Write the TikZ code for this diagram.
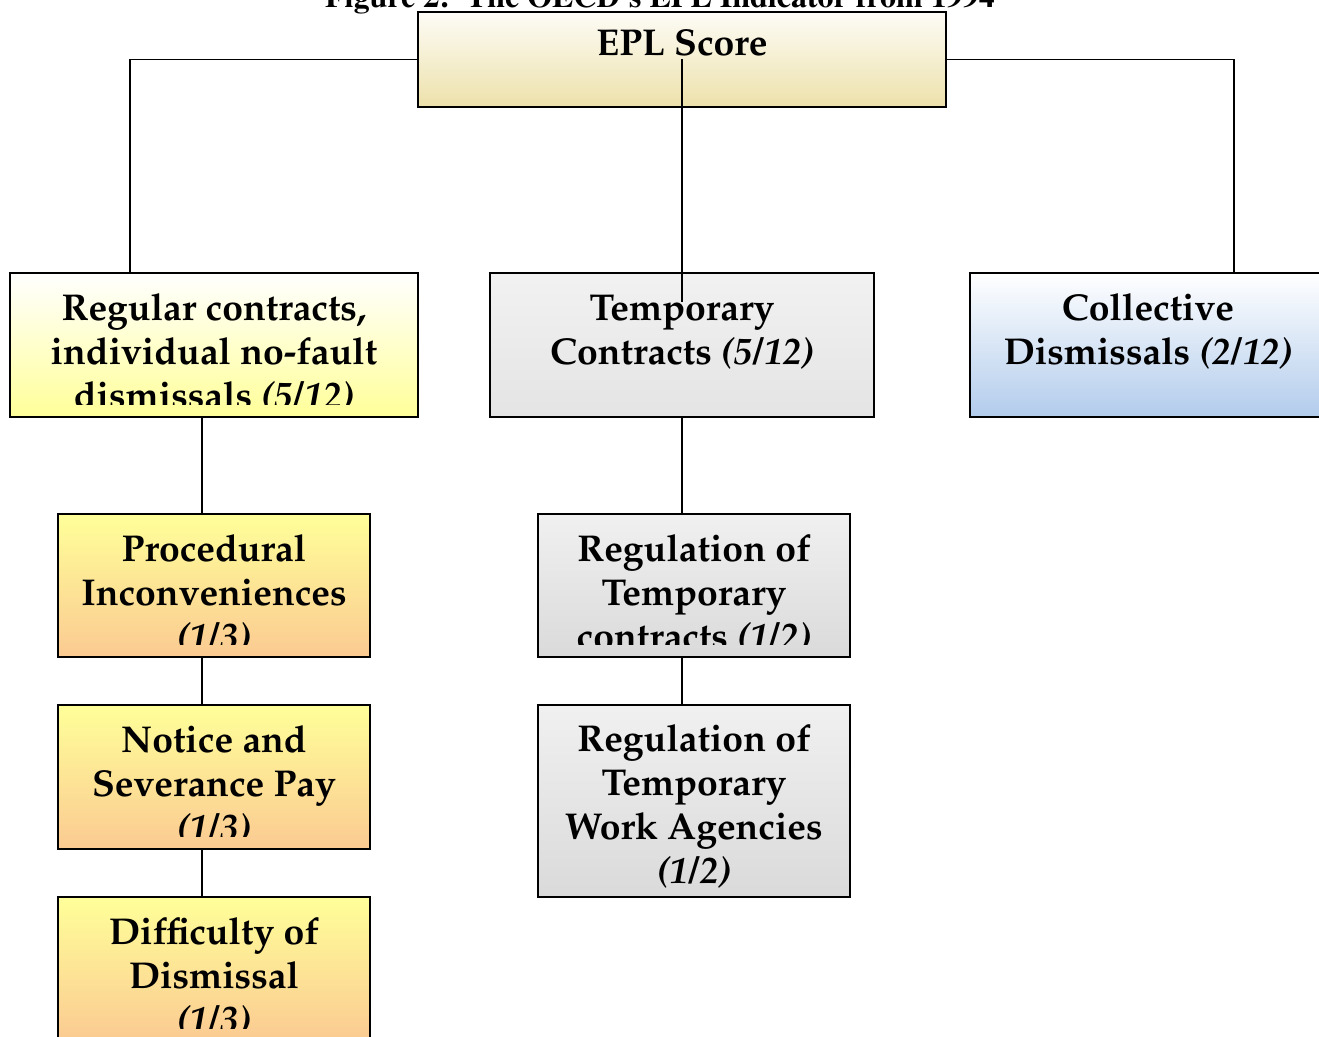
\documentclass[tikz,border=0pt]{standalone}
\usepackage[T1]{fontenc}
\usepackage{mathpazo}
\usetikzlibrary{positioning,calc}

\definecolor{eplTan}{HTML}{EDE1AA}
\definecolor{regYellow}{HTML}{FFFF99}
\definecolor{tmpGrey}{HTML}{E4E4E4}
\definecolor{colBlue}{HTML}{B2CCEC}
\definecolor{subPeach}{HTML}{FBCA92}
\definecolor{subGrey}{HTML}{DADADA}

\newcommand\boxfont{\fontsize{28}{33}\selectfont\bfseries}
\newcommand\wt[1]{\textit{#1}}

\tikzset{
  blkcut/.store in=\blkcut, blkcut=13,
  blk/.style={draw, line width=1pt, inner sep=0pt, shading=axis},
  % text sits at the top of the box and is cut off by the box
  blktxt/.style 2 args={path picture={
      \clip ($(path picture bounding box.south west)+(0,-\blkcut)$) rectangle (path picture bounding box.north east);
      \node[anchor=north, draw=none, minimum size=0pt, inner sep=0pt, align=center, font=\boxfont]
        at ($(path picture bounding box.north)+(0,#1)$) {\strut #2};
  }},
  link/.style={draw, line width=1pt}
}

\begin{document}
\begin{tikzpicture}[x=0.75pt, y=-0.75pt]
	\useasboundingbox (0,0) rectangle (1319,1037);
	\clip (0,0) rectangle (1319,1037);
	\fill[white] (0,0) rectangle (1319,1037);

	%% caption, cut at the top
	\node[anchor=base, inner sep=0pt, font=\fontfamily{ptm}\fontseries{b}\fontsize{24}{28}\selectfont] (title) at (660,8)
		{Figure 2:\ \ The OECD's EPL Indicator from 1994};

	%% top level (sizes: px times 0.75pt)
	\node[blk, top color=white!90!eplTan, bottom color=eplTan, minimum width=396pt, minimum height=71.25pt,
		blktxt={12}{EPL Score}] (epl) at (682,59.5) {};

	%% three components
	\node[blk, top color=white, bottom color=regYellow, minimum width=306pt, minimum height=108pt,
		blktxt={16}{Regular contracts,\\individual no-fault\\dismissals \wt{(5/12)}}] (reg) at (214,345) {};
	\node[blk, top color=white!50!tmpGrey, bottom color=tmpGrey, minimum width=288pt, minimum height=108pt,
		blktxt={16}{Temporary\\Contracts \wt{(5/12)}}] (tmp) at (682,345) {};
	\node[blk, top color=white, bottom color=colBlue, minimum width=267pt, minimum height=108pt,
		blktxt={16}{Collective\\Dismissals \wt{(2/12)}}] (col) at (1148,345) {};

	%% sub items, regular contracts
	\node[blk, top color=regYellow, bottom color=subPeach, minimum width=234pt, minimum height=107.25pt,
		blktxt={16}{Procedural\\Inconveniences\\\wt{(1/3)}}] (proc) at (214,585.5) {};
	\node[blk, top color=regYellow, bottom color=subPeach, minimum width=234pt, minimum height=108pt,
		blktxt={16}{Notice and\\Severance Pay\\\wt{(1/3)}}] (notice) at (214,777) {};
	\node[blk, top color=regYellow, bottom color=subPeach, minimum width=234pt, minimum height=108pt,
		blktxt={16}{Difficulty of\\Dismissal\\\wt{(1/3)}}] (diff) at (214,969) {};

	%% sub items, temporary contracts
	\node[blk, top color=white!60!subGrey, bottom color=subGrey, minimum width=234pt, minimum height=107.25pt,
		blktxt={16}{Regulation of\\Temporary\\contracts \wt{(1/2)}}] (regc) at (694,585.5) {};
	\node[blk, top color=white!60!subGrey, bottom color=subGrey, minimum width=234pt, minimum height=144pt,
		blkcut=3, blktxt={15}{Regulation of\\Temporary\\Work Agencies\\\wt{(1/2)}}] (regw) at (694,801) {};

	%% connectors
	\draw[link] (epl.west) -| ([xshift=-63pt]reg.north);
	\draw[link] (epl.east) -| ([xshift=64.5pt]col.north);
	\draw[link] (epl.center) -- ([yshift=-22pt]tmp.north);

	\draw[link] ([xshift=-9pt]reg.south) -- ([xshift=-9pt]proc.north);
	\draw[link] ([xshift=-9pt]proc.south) -- ([xshift=-9pt]notice.north);
	\draw[link] ([xshift=-9pt]notice.south) -- ([xshift=-9pt]diff.north);

	\draw[link] (tmp.south) -- ([xshift=-9pt]regc.north);
	\draw[link] ([xshift=-9pt]regc.south) -- ([xshift=-9pt]regw.north);
\end{tikzpicture}
\end{document}
